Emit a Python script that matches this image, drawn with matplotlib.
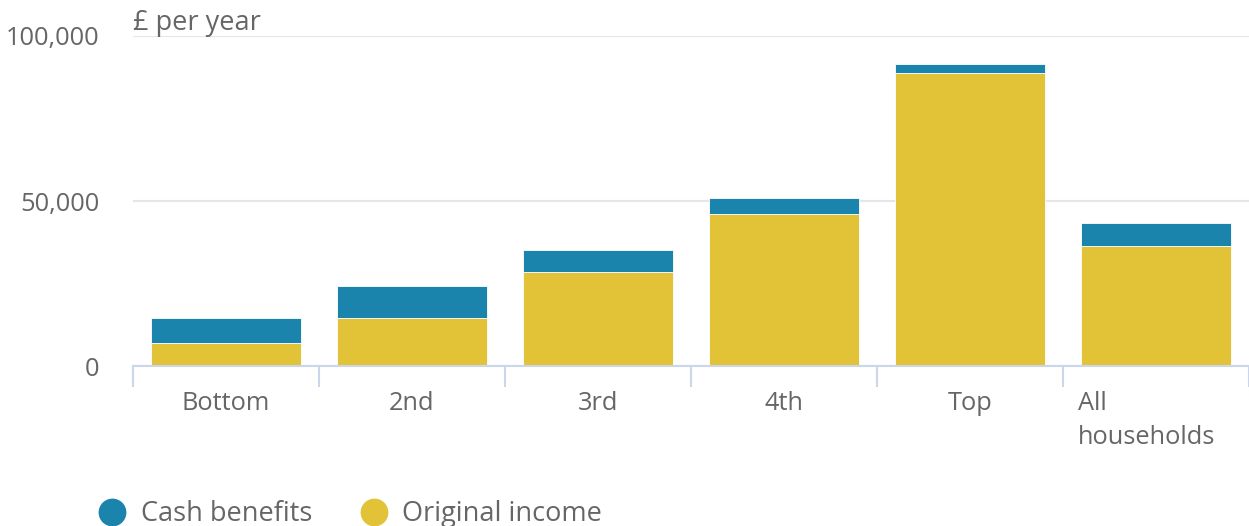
import numpy as np
import matplotlib
matplotlib.use("Agg")
import matplotlib.pyplot as plt
import matplotlib.transforms as mtransforms
from matplotlib.lines import Line2D

plt.rcParams['font.family'] = ['Open Sans', 'DejaVu Sans']

categories = ["Bottom", "2nd", "3rd", "4th", "Top", "All\nhouseholds"]
original_income = [7000, 14500, 28350, 46200, 88800, 36500]
cash_benefits = [7500, 9650, 6700, 4700, 2600, 6900]

blue = "#1a84ad"
yellow = "#e2c338"
text_col = "#666666"
fs = 18.3

fig = plt.figure(figsize=(12.49, 5.26), dpi=100)
ax = fig.add_axes([133 / 1249, 160 / 526, 1116 / 1249, 330 / 526])

x = np.arange(len(categories))
ax.bar(x, original_income, width=0.805, color=yellow, edgecolor="white",
       linewidth=0.6, zorder=2)
ax.bar(x, cash_benefits, bottom=original_income, width=0.805, color=blue,
       edgecolor="white", linewidth=0.6, zorder=2)

ax.set_xlim(-0.5, 5.5)
ax.set_ylim(0, 100000)
ax.set_yticks([0, 50000, 100000])
ax.set_yticklabels(["0", "50,000", "100,000"])
ax.yaxis.grid(True, color="#e6e6e6", linewidth=1.5, zorder=0)
ax.set_axisbelow(True)

for s in ["top", "right", "left"]:
    ax.spines[s].set_visible(False)
ax.spines["bottom"].set_color("#ccd6eb")
ax.spines["bottom"].set_linewidth(1.5)
ax.spines["bottom"].set_zorder(3)

ax.set_xticks(x)
ax.set_xticklabels(categories)
ax.set_xticks(np.arange(-0.5, 5.6, 1), minor=True)
ax.tick_params(axis="x", which="major", length=0, pad=18,
               labelsize=fs, labelcolor=text_col)
ax.tick_params(axis="x", which="minor", length=15, width=1.5, color="#ccd6eb")
ax.tick_params(axis="y", length=0, pad=24, labelsize=fs, labelcolor=text_col)

# last label is left aligned in the original
lab = ax.get_xticklabels()[-1]
lab.set_horizontalalignment("left")
lab.set_linespacing(1.45)
lab.set_transform(lab.get_transform() +
                  mtransforms.ScaledTranslation(-0.78, 0, fig.dpi_scale_trans))

ax.text(0, 0.996, "£ per year", transform=ax.transAxes, fontsize=19.5,
        color=text_col, ha="left", va="bottom")

handles = [Line2D([], [], marker="o", linestyle="", markersize=19,
                  markerfacecolor=blue, markeredgecolor=blue),
           Line2D([], [], marker="o", linestyle="", markersize=19,
                  markerfacecolor=yellow, markeredgecolor=yellow)]
fig.legend(handles, ["Cash benefits", "Original income"], loc="lower left",
           bbox_to_anchor=(96 / 1249, -0.004), ncol=2, frameon=False,
           fontsize=19.5, labelcolor=text_col, handletextpad=0.45,
           columnspacing=1.67, handlelength=1.2, borderpad=0,
           borderaxespad=0)

fig.savefig("out.png", dpi=100)
